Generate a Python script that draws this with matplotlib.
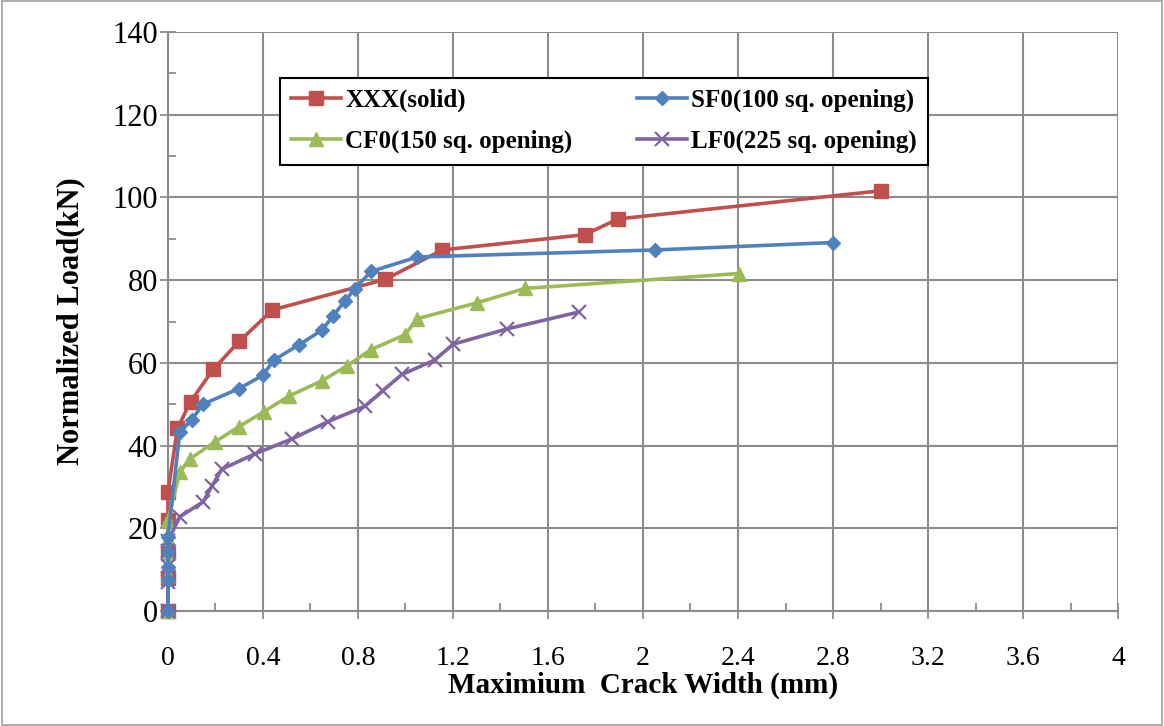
import matplotlib.pyplot as plt
from matplotlib.patches import Rectangle
from matplotlib.ticker import MultipleLocator

plt.rcParams['font.family'] = ['Liberation Serif', 'DejaVu Serif']

# ************************** Data *************************************************
xxx_w = [0, 0, 0, 0, 0, 0.04, 0.095, 0.19, 0.30, 0.44, 0.915, 1.155, 1.755, 1.895, 3.0]
xxx_p = [0, 8.0, 14.3, 22.0, 28.8, 44.2, 50.6, 58.4, 65.2, 72.8, 80.2, 87.3, 91.0, 94.8, 101.6]

sf0_w = [0, 0, 0, 0, 0, 0.05, 0.10, 0.147, 0.30, 0.40, 0.446, 0.55, 0.648, 0.695, 0.745, 0.787,
         0.855, 1.05, 2.05, 2.80]
sf0_p = [0, 7.5, 10.7, 14.2, 17.9, 43.3, 46.2, 50.0, 53.8, 57.0, 60.7, 64.3, 67.9, 71.3, 75.0, 77.9,
         82.1, 85.6, 87.3, 89.1]

cf0_w = [0, 0, 0, 0, 0, 0.05, 0.093, 0.198, 0.30, 0.404, 0.51, 0.65, 0.754, 0.855, 0.998, 1.05,
         1.30, 1.503, 2.404]
cf0_p = [0, 8.7, 14.0, 17.5, 22.0, 33.6, 36.8, 40.9, 44.6, 48.2, 52.0, 55.7, 59.3, 63.2, 66.8, 70.7,
         74.5, 78.0, 81.6]

lf0_w = [0, 0, 0, 0, 0, 0.05, 0.148, 0.185, 0.227, 0.366, 0.522, 0.674, 0.829, 0.905, 0.985,
         1.124, 1.20, 1.427, 1.73]
lf0_p = [0, 7.0, 10.8, 14.5, 17.0, 22.8, 26.4, 30.2, 34.3, 38.0, 41.6, 45.8, 49.5, 53.3, 57.2,
         60.7, 64.5, 68.2, 72.3]

x_ticks = [0, 0.4, 0.8, 1.2, 1.6, 2, 2.4, 2.8, 3.2, 3.6, 4]
x_tick_labels = ['0', '0.4', '0.8', '1.2', '1.6', '2', '2.4', '2.8', '3.2', '3.6', '4']

# ************************** Plot ****************************
fig = plt.figure(figsize=(11.64, 7.26), dpi=100)
ax = fig.add_axes([0.1443, 0.1584, 0.8162, 0.7975])

l1, = ax.plot(xxx_w, xxx_p, color='#C0504D', marker='s', markersize=10.5, linewidth=2.6,
              label='XXX(solid)', zorder=3, clip_on=False)
l2, = ax.plot(sf0_w, sf0_p, color='#4F81BD', marker='D', markersize=7, linewidth=2.6,
              label='SF0(100 sq. opening)', zorder=4, clip_on=False)
l3, = ax.plot(cf0_w, cf0_p, color='#9BBB59', marker='^', markersize=10, linewidth=2.6,
              label='CF0(150 sq. opening)', zorder=3, clip_on=False)
l4, = ax.plot(lf0_w, lf0_p, color='#8064A2', marker='x', markersize=10, markeredgewidth=1.6,
              linewidth=2.6, label='LF0(225 sq. opening)', zorder=3, clip_on=False)

ax.set_xlim(0, 4)
ax.set_ylim(0, 140)
ax.set_xticks(x_ticks)
ax.set_xticklabels(x_tick_labels)
ax.xaxis.set_minor_locator(MultipleLocator(0.2))
ax.yaxis.set_major_locator(MultipleLocator(20))
ax.yaxis.set_minor_locator(MultipleLocator(10))

ax.grid(True, which='major', color='#8C8C8C', linewidth=1.5)
ax.tick_params(which='major', direction='inout', length=12, width=1.3, color='#8C8C8C')
ax.tick_params(axis='y', which='major', labelsize=22, pad=1)
ax.tick_params(axis='x', which='major', labelsize=20, pad=19)
ax.tick_params(which='minor', direction='in', length=6, width=1.3, color='#8C8C8C')
for s in ['top', 'right']:
    ax.spines[s].set_visible(False)
for s in ['left', 'bottom']:
    ax.spines[s].set_color('#8C8C8C')
    ax.spines[s].set_linewidth(1.5)

ax.set_xlabel('Maximium  Crack Width (mm)', fontsize=21, fontweight='bold', labelpad=1)
ax.set_ylabel('Normalized Load(kN)', fontsize=22, fontweight='bold', labelpad=20)

# legend filled row by row like the original
leg = ax.legend([l1, l3, l2, l4], [l1.get_label(), l3.get_label(), l2.get_label(), l4.get_label()],
                loc='upper left', bbox_to_anchor=(0.118, 0.921), ncol=2, fancybox=False,
                framealpha=1, edgecolor='black', prop={'weight': 'bold', 'size': 18},
                columnspacing=2.6, handlelength=2.0, handletextpad=0.15, borderpad=0.45,
                labelspacing=0.7, borderaxespad=0)
leg.get_frame().set_linewidth(1.5)

# outer grey border like the spreadsheet chart area
fig.patches.append(Rectangle((0.002, 0.002), 0.996, 0.996, transform=fig.transFigure,
                             fill=False, edgecolor='#A0A0A0', linewidth=1.2))

plt.savefig('out.png', dpi=100)
